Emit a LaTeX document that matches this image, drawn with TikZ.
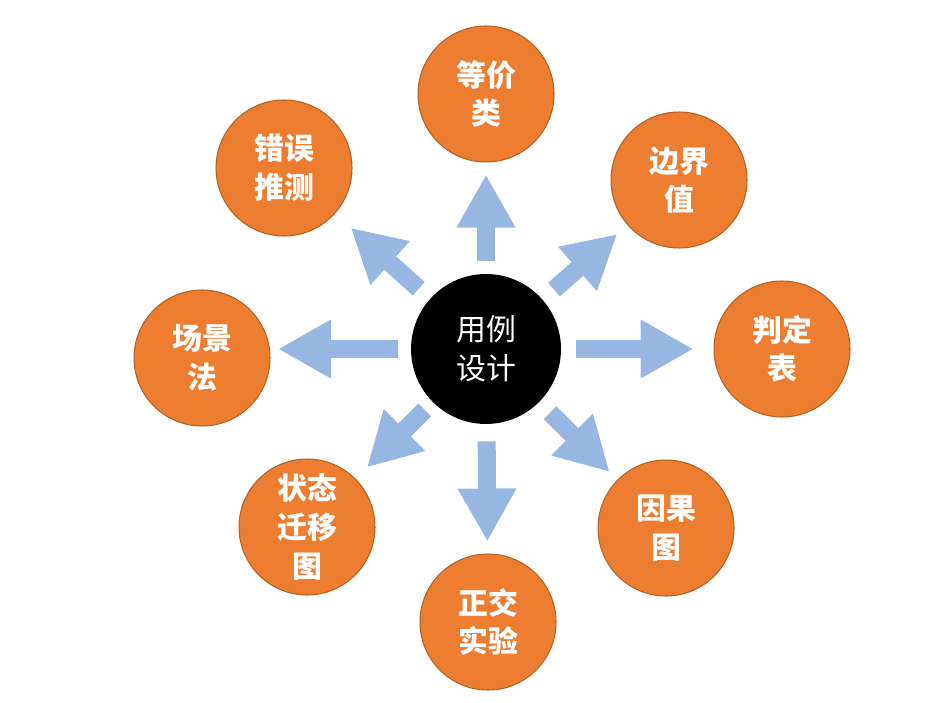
\documentclass[tikz,border=0pt]{standalone}
\usepackage{fontspec}
\newfontfamily\cjk{Noto Sans CJK SC}
\usetikzlibrary{arrows.meta}
\definecolor{hubblack}{HTML}{000000}
\definecolor{methodorange}{HTML}{ED7D31}
\definecolor{methodedge}{HTML}{B5601F}
\definecolor{flowblue}{HTML}{97B6E2}
\begin{document}
\begin{tikzpicture}[x=0.02cm, y=-0.02cm, font=\cjk\fontsize{17}{22}\selectfont,
	hub/.style={circle, fill=hubblack, text=white, minimum size=3cm, inner sep=0pt, align=center},
	method/.style={circle, fill=methodorange, draw=methodedge, line width=0.6pt, text=white, font=\cjk\bfseries\fontsize{17}{22}\selectfont, minimum size=2.72cm, inner sep=0pt, align=center},
	flow/.style={draw=flowblue, line width=0.36cm, -{Triangle[width=1.1cm, length=1.06cm]}}]
	\useasboundingbox (0,0) rectangle (928,702);
	\node[hub] (use) at (486,349) {用例\\设计};
	\foreach \n/\x/\y/\t in {eqv/486/94/{等价\\类}, bnd/679/180/{边界\\值}, dec/782/349/{判定\\表}, cau/666/528/{因果\\图},
		ort/488/622/{正交\\实验}, sta/307/527/{状态\\迁移\\图}, sce/202/358/{场景\\法}, err/284/168/{错误\\推测}}
		\node[method] (\n) at (\x,\y) {\t};
	% arrows out of the hub
	\foreach \n/\a/\b in {eqv/0.26/0.24, bnd/0.3/0.27, dec/0.3/0.4, cau/0.3/0.22,
		ort/0.34/0.24, sta/0.22/0.32, err/0.3/0.42}
		\draw[flow, shorten <=\a cm, shorten >=\b cm] (use) -- (\n);
	\draw[flow, shorten <=0.26cm, shorten >=1.52cm] (use) -- (use -| sce);
\end{tikzpicture}
\end{document}
